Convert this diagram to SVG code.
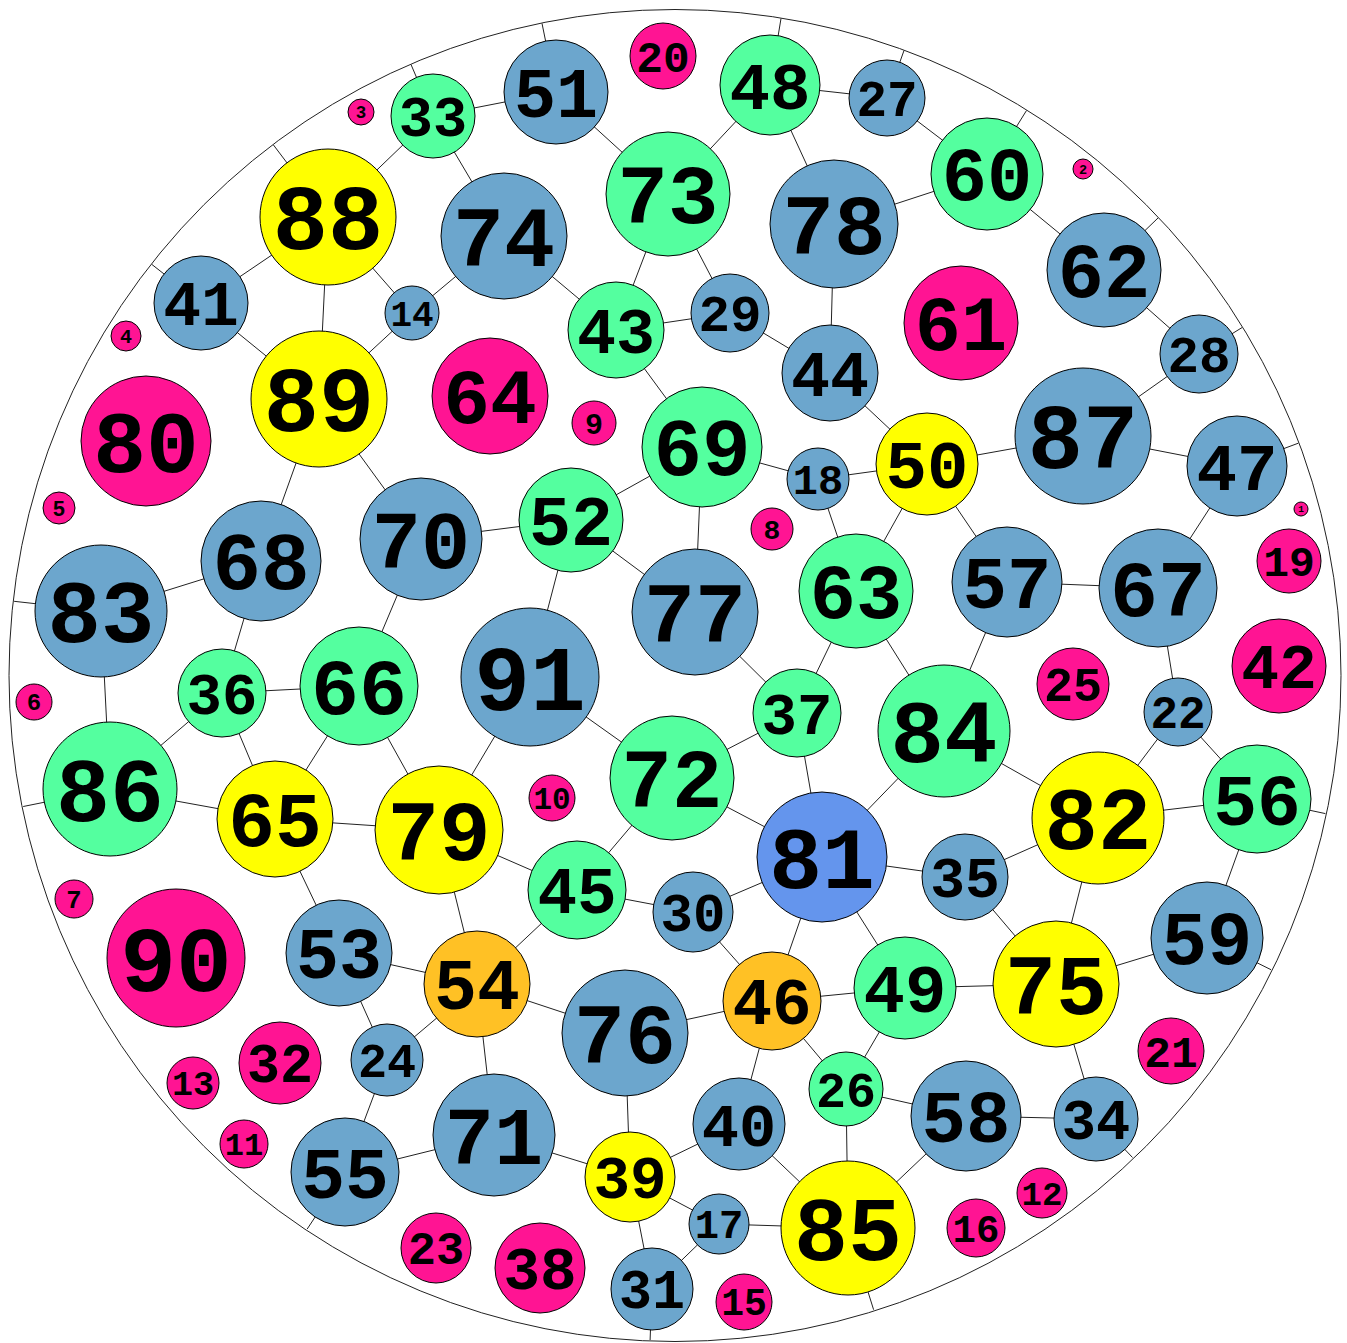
<svg xmlns="http://www.w3.org/2000/svg" width="1347" height="1343" viewBox="0 0 1347 1343">
<style>
.n circle{stroke:#000;stroke-width:1}
.b{fill:#6CA6CD}.g{fill:#54FF9F}.y{fill:#FFFF00}.m{fill:#FF1493}.o{fill:#FFC125}.c{fill:#6495ED}
.n text{font-family:"Liberation Mono","Courier New",monospace;font-weight:bold;text-anchor:middle;fill:#000}
#connectors line{stroke:#222;stroke-width:1}
</style>
<rect width="1347" height="1343" fill="#fff"/>
<circle id="boundary" cx="675" cy="675.5" r="666" fill="none" stroke="#222" stroke-width="1"/>
<g id="connectors">
<line x1="433" y1="116" x2="411" y2="64.5"/>
<line x1="556" y1="92" x2="542" y2="23.4"/>
<line x1="770" y1="85" x2="781" y2="18.5"/>
<line x1="887" y1="98" x2="904" y2="50.5"/>
<line x1="987" y1="174" x2="1026.5" y2="110.5"/>
<line x1="1104" y1="270" x2="1158" y2="218"/>
<line x1="1199" y1="354" x2="1242" y2="327.6"/>
<line x1="1237" y1="466" x2="1298.3" y2="443.2"/>
<line x1="1257" y1="799" x2="1325.4" y2="813.6"/>
<line x1="1207" y1="938" x2="1271" y2="969.7"/>
<line x1="1096" y1="1119" x2="1132.5" y2="1157.5"/>
<line x1="848" y1="1228" x2="873.6" y2="1309.7"/>
<line x1="652" y1="1289" x2="650.1" y2="1340"/>
<line x1="345" y1="1172" x2="307.2" y2="1229"/>
<line x1="110" y1="789" x2="23.2" y2="806.5"/>
<line x1="101" y1="611" x2="14.1" y2="601.3"/>
<line x1="201" y1="303" x2="151.8" y2="264.4"/>
<line x1="328" y1="217" x2="273.4" y2="144.9"/>
<line x1="433" y1="116" x2="556" y2="92"/>
<line x1="433" y1="116" x2="328" y2="217"/>
<line x1="433" y1="116" x2="504" y2="236"/>
<line x1="556" y1="92" x2="668" y2="194"/>
<line x1="770" y1="85" x2="668" y2="194"/>
<line x1="770" y1="85" x2="887" y2="98"/>
<line x1="770" y1="85" x2="834" y2="224"/>
<line x1="887" y1="98" x2="987" y2="174"/>
<line x1="987" y1="174" x2="834" y2="224"/>
<line x1="987" y1="174" x2="1104" y2="270"/>
<line x1="1104" y1="270" x2="1199" y2="354"/>
<line x1="1199" y1="354" x2="1083" y2="436"/>
<line x1="1083" y1="436" x2="1237" y2="466"/>
<line x1="1083" y1="436" x2="927" y2="464"/>
<line x1="1237" y1="466" x2="1158" y2="588"/>
<line x1="1158" y1="588" x2="1007" y2="582"/>
<line x1="1158" y1="588" x2="1178" y2="712"/>
<line x1="1178" y1="712" x2="1098" y2="818"/>
<line x1="1178" y1="712" x2="1257" y2="799"/>
<line x1="1257" y1="799" x2="1098" y2="818"/>
<line x1="1257" y1="799" x2="1207" y2="938"/>
<line x1="1098" y1="818" x2="944" y2="731"/>
<line x1="1098" y1="818" x2="965" y2="877"/>
<line x1="1098" y1="818" x2="1056" y2="984"/>
<line x1="1056" y1="984" x2="965" y2="877"/>
<line x1="1056" y1="984" x2="1207" y2="938"/>
<line x1="1056" y1="984" x2="905" y2="988"/>
<line x1="1056" y1="984" x2="1096" y2="1119"/>
<line x1="1096" y1="1119" x2="966" y2="1116"/>
<line x1="966" y1="1116" x2="846" y2="1089"/>
<line x1="966" y1="1116" x2="848" y2="1228"/>
<line x1="846" y1="1089" x2="905" y2="988"/>
<line x1="846" y1="1089" x2="772" y2="1001"/>
<line x1="846" y1="1089" x2="848" y2="1228"/>
<line x1="848" y1="1228" x2="739" y2="1124"/>
<line x1="848" y1="1228" x2="719" y2="1224"/>
<line x1="719" y1="1224" x2="630" y2="1177"/>
<line x1="719" y1="1224" x2="652" y2="1289"/>
<line x1="630" y1="1177" x2="652" y2="1289"/>
<line x1="630" y1="1177" x2="739" y2="1124"/>
<line x1="630" y1="1177" x2="494" y2="1135"/>
<line x1="630" y1="1177" x2="625" y2="1033"/>
<line x1="739" y1="1124" x2="772" y2="1001"/>
<line x1="772" y1="1001" x2="625" y2="1033"/>
<line x1="772" y1="1001" x2="693" y2="912"/>
<line x1="772" y1="1001" x2="905" y2="988"/>
<line x1="772" y1="1001" x2="822" y2="857"/>
<line x1="905" y1="988" x2="822" y2="857"/>
<line x1="822" y1="857" x2="965" y2="877"/>
<line x1="822" y1="857" x2="693" y2="912"/>
<line x1="822" y1="857" x2="672" y2="778"/>
<line x1="822" y1="857" x2="797" y2="713"/>
<line x1="822" y1="857" x2="944" y2="731"/>
<line x1="944" y1="731" x2="856" y2="591"/>
<line x1="944" y1="731" x2="1007" y2="582"/>
<line x1="856" y1="591" x2="797" y2="713"/>
<line x1="856" y1="591" x2="818" y2="479"/>
<line x1="856" y1="591" x2="927" y2="464"/>
<line x1="927" y1="464" x2="1007" y2="582"/>
<line x1="927" y1="464" x2="818" y2="479"/>
<line x1="927" y1="464" x2="830" y2="373"/>
<line x1="818" y1="479" x2="702" y2="447"/>
<line x1="830" y1="373" x2="730" y2="313"/>
<line x1="830" y1="373" x2="834" y2="224"/>
<line x1="730" y1="313" x2="616" y2="330"/>
<line x1="730" y1="313" x2="668" y2="194"/>
<line x1="668" y1="194" x2="616" y2="330"/>
<line x1="616" y1="330" x2="504" y2="236"/>
<line x1="616" y1="330" x2="702" y2="447"/>
<line x1="702" y1="447" x2="571" y2="520"/>
<line x1="702" y1="447" x2="695" y2="612"/>
<line x1="695" y1="612" x2="797" y2="713"/>
<line x1="695" y1="612" x2="571" y2="520"/>
<line x1="571" y1="520" x2="421" y2="539"/>
<line x1="571" y1="520" x2="530" y2="677"/>
<line x1="530" y1="677" x2="439" y2="830"/>
<line x1="530" y1="677" x2="672" y2="778"/>
<line x1="672" y1="778" x2="797" y2="713"/>
<line x1="672" y1="778" x2="577" y2="890"/>
<line x1="577" y1="890" x2="439" y2="830"/>
<line x1="577" y1="890" x2="693" y2="912"/>
<line x1="577" y1="890" x2="477" y2="984"/>
<line x1="477" y1="984" x2="439" y2="830"/>
<line x1="477" y1="984" x2="339" y2="953"/>
<line x1="477" y1="984" x2="625" y2="1033"/>
<line x1="477" y1="984" x2="387" y2="1060"/>
<line x1="477" y1="984" x2="494" y2="1135"/>
<line x1="339" y1="953" x2="275" y2="819"/>
<line x1="339" y1="953" x2="387" y2="1060"/>
<line x1="387" y1="1060" x2="345" y2="1172"/>
<line x1="345" y1="1172" x2="494" y2="1135"/>
<line x1="275" y1="819" x2="439" y2="830"/>
<line x1="275" y1="819" x2="359" y2="686"/>
<line x1="275" y1="819" x2="222" y2="693"/>
<line x1="275" y1="819" x2="110" y2="789"/>
<line x1="359" y1="686" x2="439" y2="830"/>
<line x1="359" y1="686" x2="222" y2="693"/>
<line x1="359" y1="686" x2="421" y2="539"/>
<line x1="222" y1="693" x2="110" y2="789"/>
<line x1="222" y1="693" x2="261" y2="561"/>
<line x1="110" y1="789" x2="101" y2="611"/>
<line x1="101" y1="611" x2="261" y2="561"/>
<line x1="261" y1="561" x2="319" y2="399"/>
<line x1="319" y1="399" x2="421" y2="539"/>
<line x1="319" y1="399" x2="201" y2="303"/>
<line x1="319" y1="399" x2="412" y2="313"/>
<line x1="319" y1="399" x2="328" y2="217"/>
<line x1="328" y1="217" x2="201" y2="303"/>
<line x1="328" y1="217" x2="412" y2="313"/>
<line x1="412" y1="313" x2="504" y2="236"/>
</g>
<g id="n1" class="n"><circle class="m" cx="1301" cy="509" r="7"/><text x="1301" y="509" dy=".35em" font-size="9.5">1</text></g>
<g id="n2" class="n"><circle class="m" cx="1083" cy="169" r="10"/><text x="1083" y="169" dy=".35em" font-size="13.5">2</text></g>
<g id="n3" class="n"><circle class="m" cx="361" cy="112" r="13"/><text x="361" y="112" dy=".35em" font-size="17.5">3</text></g>
<g id="n4" class="n"><circle class="m" cx="126" cy="336" r="15"/><text x="126" y="336" dy=".35em" font-size="20">4</text></g>
<g id="n5" class="n"><circle class="m" cx="59" cy="508" r="16"/><text x="59" y="508" dy=".35em" font-size="21.5">5</text></g>
<g id="n6" class="n"><circle class="m" cx="34" cy="702" r="18"/><text x="34" y="702" dy=".35em" font-size="24">6</text></g>
<g id="n7" class="n"><circle class="m" cx="74" cy="899" r="19"/><text x="74" y="899" dy=".35em" font-size="25.5">7</text></g>
<g id="n8" class="n"><circle class="m" cx="772" cy="529" r="21"/><text x="772" y="529" dy=".35em" font-size="28">8</text></g>
<g id="n9" class="n"><circle class="m" cx="594" cy="423" r="22"/><text x="594" y="423" dy=".35em" font-size="30">9</text></g>
<g id="n10" class="n"><circle class="m" cx="552" cy="798" r="23"/><text x="552" y="798" dy=".35em" font-size="31">10</text></g>
<g id="n11" class="n"><circle class="m" cx="244" cy="1144" r="24"/><text x="244" y="1144" dy=".35em" font-size="32">11</text></g>
<g id="n12" class="n"><circle class="m" cx="1042" cy="1193" r="25"/><text x="1042" y="1193" dy=".35em" font-size="34">12</text></g>
<g id="n13" class="n"><circle class="m" cx="193" cy="1083" r="26"/><text x="193" y="1083" dy=".35em" font-size="35">13</text></g>
<g id="n14" class="n"><circle class="b" cx="412" cy="313" r="27"/><text x="412" y="313" dy=".35em" font-size="36">14</text></g>
<g id="n15" class="n"><circle class="m" cx="744" cy="1302" r="28"/><text x="744" y="1302" dy=".35em" font-size="38">15</text></g>
<g id="n16" class="n"><circle class="m" cx="976" cy="1228" r="29"/><text x="976" y="1228" dy=".35em" font-size="39">16</text></g>
<g id="n17" class="n"><circle class="b" cx="719" cy="1224" r="30"/><text x="719" y="1224" dy=".35em" font-size="40.5">17</text></g>
<g id="n18" class="n"><circle class="b" cx="818" cy="479" r="31"/><text x="818" y="479" dy=".35em" font-size="42">18</text></g>
<g id="n19" class="n"><circle class="m" cx="1289" cy="561" r="32"/><text x="1289" y="561" dy=".35em" font-size="43">19</text></g>
<g id="n20" class="n"><circle class="m" cx="663" cy="56" r="33"/><text x="663" y="56" dy=".35em" font-size="44.5">20</text></g>
<g id="n21" class="n"><circle class="m" cx="1171" cy="1051" r="33"/><text x="1171" y="1051" dy=".35em" font-size="44.5">21</text></g>
<g id="n22" class="n"><circle class="b" cx="1178" cy="712" r="34"/><text x="1178" y="712" dy=".35em" font-size="46">22</text></g>
<g id="n23" class="n"><circle class="m" cx="436" cy="1248" r="35"/><text x="436" y="1248" dy=".35em" font-size="47">23</text></g>
<g id="n24" class="n"><circle class="b" cx="387" cy="1060" r="36"/><text x="387" y="1060" dy=".35em" font-size="48.5">24</text></g>
<g id="n25" class="n"><circle class="m" cx="1073" cy="684" r="36"/><text x="1073" y="684" dy=".35em" font-size="48.5">25</text></g>
<g id="n26" class="n"><circle class="g" cx="846" cy="1089" r="37"/><text x="846" y="1089" dy=".35em" font-size="50">26</text></g>
<g id="n27" class="n"><circle class="b" cx="887" cy="98" r="38"/><text x="887" y="98" dy=".35em" font-size="51">27</text></g>
<g id="n28" class="n"><circle class="b" cx="1199" cy="354" r="39"/><text x="1199" y="354" dy=".35em" font-size="52.5">28</text></g>
<g id="n29" class="n"><circle class="b" cx="730" cy="313" r="39"/><text x="730" y="313" dy=".35em" font-size="52.5">29</text></g>
<g id="n30" class="n"><circle class="b" cx="693" cy="912" r="40"/><text x="693" y="912" dy=".35em" font-size="54">30</text></g>
<g id="n31" class="n"><circle class="b" cx="652" cy="1289" r="41"/><text x="652" y="1289" dy=".35em" font-size="55">31</text></g>
<g id="n32" class="n"><circle class="m" cx="280" cy="1063" r="41"/><text x="280" y="1063" dy=".35em" font-size="55">32</text></g>
<g id="n33" class="n"><circle class="g" cx="433" cy="116" r="42"/><text x="433" y="116" dy=".35em" font-size="57">33</text></g>
<g id="n34" class="n"><circle class="b" cx="1096" cy="1119" r="42"/><text x="1096" y="1119" dy=".35em" font-size="57">34</text></g>
<g id="n35" class="n"><circle class="b" cx="965" cy="877" r="43"/><text x="965" y="877" dy=".35em" font-size="58">35</text></g>
<g id="n36" class="n"><circle class="g" cx="222" cy="693" r="44"/><text x="222" y="693" dy=".35em" font-size="59">36</text></g>
<g id="n37" class="n"><circle class="g" cx="797" cy="713" r="44"/><text x="797" y="713" dy=".35em" font-size="59">37</text></g>
<g id="n38" class="n"><circle class="m" cx="540" cy="1268" r="45"/><text x="540" y="1268" dy=".35em" font-size="61">38</text></g>
<g id="n39" class="n"><circle class="y" cx="630" cy="1177" r="45"/><text x="630" y="1177" dy=".35em" font-size="61">39</text></g>
<g id="n40" class="n"><circle class="b" cx="739" cy="1124" r="46"/><text x="739" y="1124" dy=".35em" font-size="62">40</text></g>
<g id="n41" class="n"><circle class="b" cx="201" cy="303" r="47"/><text x="201" y="303" dy=".35em" font-size="63">41</text></g>
<g id="n42" class="n"><circle class="m" cx="1279" cy="666" r="47"/><text x="1279" y="666" dy=".35em" font-size="63">42</text></g>
<g id="n43" class="n"><circle class="g" cx="616" cy="330" r="48"/><text x="616" y="330" dy=".35em" font-size="65">43</text></g>
<g id="n44" class="n"><circle class="b" cx="830" cy="373" r="48"/><text x="830" y="373" dy=".35em" font-size="65">44</text></g>
<g id="n45" class="n"><circle class="g" cx="577" cy="890" r="49"/><text x="577" y="890" dy=".35em" font-size="66">45</text></g>
<g id="n46" class="n"><circle class="o" cx="772" cy="1001" r="49"/><text x="772" y="1001" dy=".35em" font-size="66">46</text></g>
<g id="n47" class="n"><circle class="b" cx="1237" cy="466" r="50"/><text x="1237" y="466" dy=".35em" font-size="67.5">47</text></g>
<g id="n48" class="n"><circle class="g" cx="770" cy="85" r="50"/><text x="770" y="85" dy=".35em" font-size="67.5">48</text></g>
<g id="n49" class="n"><circle class="g" cx="905" cy="988" r="51"/><text x="905" y="988" dy=".35em" font-size="69">49</text></g>
<g id="n50" class="n"><circle class="y" cx="927" cy="464" r="51"/><text x="927" y="464" dy=".35em" font-size="69">50</text></g>
<g id="n51" class="n"><circle class="b" cx="556" cy="92" r="52"/><text x="556" y="92" dy=".35em" font-size="70">51</text></g>
<g id="n52" class="n"><circle class="g" cx="571" cy="520" r="52"/><text x="571" y="520" dy=".35em" font-size="70">52</text></g>
<g id="n53" class="n"><circle class="b" cx="339" cy="953" r="53"/><text x="339" y="953" dy=".35em" font-size="71.5">53</text></g>
<g id="n54" class="n"><circle class="o" cx="477" cy="984" r="53"/><text x="477" y="984" dy=".35em" font-size="71.5">54</text></g>
<g id="n55" class="n"><circle class="b" cx="345" cy="1172" r="54"/><text x="345" y="1172" dy=".35em" font-size="73">55</text></g>
<g id="n56" class="n"><circle class="g" cx="1257" cy="799" r="54"/><text x="1257" y="799" dy=".35em" font-size="73">56</text></g>
<g id="n57" class="n"><circle class="b" cx="1007" cy="582" r="55"/><text x="1007" y="582" dy=".35em" font-size="74">57</text></g>
<g id="n58" class="n"><circle class="b" cx="966" cy="1116" r="55"/><text x="966" y="1116" dy=".35em" font-size="74">58</text></g>
<g id="n59" class="n"><circle class="b" cx="1207" cy="938" r="56"/><text x="1207" y="938" dy=".35em" font-size="75.5">59</text></g>
<g id="n60" class="n"><circle class="g" cx="987" cy="174" r="56"/><text x="987" y="174" dy=".35em" font-size="75.5">60</text></g>
<g id="n61" class="n"><circle class="m" cx="961" cy="323" r="57"/><text x="961" y="323" dy=".35em" font-size="77">61</text></g>
<g id="n62" class="n"><circle class="b" cx="1104" cy="270" r="57"/><text x="1104" y="270" dy=".35em" font-size="77">62</text></g>
<g id="n63" class="n"><circle class="g" cx="856" cy="591" r="57"/><text x="856" y="591" dy=".35em" font-size="77">63</text></g>
<g id="n64" class="n"><circle class="m" cx="490" cy="396" r="58"/><text x="490" y="396" dy=".35em" font-size="78">64</text></g>
<g id="n65" class="n"><circle class="y" cx="275" cy="819" r="58"/><text x="275" y="819" dy=".35em" font-size="78">65</text></g>
<g id="n66" class="n"><circle class="g" cx="359" cy="686" r="59"/><text x="359" y="686" dy=".35em" font-size="80">66</text></g>
<g id="n67" class="n"><circle class="b" cx="1158" cy="588" r="59"/><text x="1158" y="588" dy=".35em" font-size="80">67</text></g>
<g id="n68" class="n"><circle class="b" cx="261" cy="561" r="60"/><text x="261" y="561" dy=".35em" font-size="81">68</text></g>
<g id="n69" class="n"><circle class="g" cx="702" cy="447" r="60"/><text x="702" y="447" dy=".35em" font-size="81">69</text></g>
<g id="n70" class="n"><circle class="b" cx="421" cy="539" r="61"/><text x="421" y="539" dy=".35em" font-size="82">70</text></g>
<g id="n71" class="n"><circle class="b" cx="494" cy="1135" r="61"/><text x="494" y="1135" dy=".35em" font-size="82">71</text></g>
<g id="n72" class="n"><circle class="g" cx="672" cy="778" r="62"/><text x="672" y="778" dy=".35em" font-size="84">72</text></g>
<g id="n73" class="n"><circle class="g" cx="668" cy="194" r="62"/><text x="668" y="194" dy=".35em" font-size="84">73</text></g>
<g id="n74" class="n"><circle class="b" cx="504" cy="236" r="63"/><text x="504" y="236" dy=".35em" font-size="85">74</text></g>
<g id="n75" class="n"><circle class="y" cx="1056" cy="984" r="63"/><text x="1056" y="984" dy=".35em" font-size="85">75</text></g>
<g id="n76" class="n"><circle class="b" cx="625" cy="1033" r="63"/><text x="625" y="1033" dy=".35em" font-size="85">76</text></g>
<g id="n77" class="n"><circle class="b" cx="695" cy="612" r="63"/><text x="695" y="612" dy=".35em" font-size="85">77</text></g>
<g id="n78" class="n"><circle class="b" cx="834" cy="224" r="64"/><text x="834" y="224" dy=".35em" font-size="86">78</text></g>
<g id="n79" class="n"><circle class="y" cx="439" cy="830" r="64"/><text x="439" y="830" dy=".35em" font-size="86">79</text></g>
<g id="n80" class="n"><circle class="m" cx="146" cy="441" r="65"/><text x="146" y="441" dy=".35em" font-size="88">80</text></g>
<g id="n81" class="n"><circle class="c" cx="822" cy="857" r="65"/><text x="822" y="857" dy=".35em" font-size="88">81</text></g>
<g id="n82" class="n"><circle class="y" cx="1098" cy="818" r="66"/><text x="1098" y="818" dy=".35em" font-size="89">82</text></g>
<g id="n83" class="n"><circle class="b" cx="101" cy="611" r="66"/><text x="101" y="611" dy=".35em" font-size="89">83</text></g>
<g id="n84" class="n"><circle class="g" cx="944" cy="731" r="66"/><text x="944" y="731" dy=".35em" font-size="89">84</text></g>
<g id="n85" class="n"><circle class="y" cx="848" cy="1228" r="67"/><text x="848" y="1228" dy=".35em" font-size="90">85</text></g>
<g id="n86" class="n"><circle class="g" cx="110" cy="789" r="67"/><text x="110" y="789" dy=".35em" font-size="90">86</text></g>
<g id="n87" class="n"><circle class="b" cx="1083" cy="436" r="68"/><text x="1083" y="436" dy=".35em" font-size="92">87</text></g>
<g id="n88" class="n"><circle class="y" cx="328" cy="217" r="68"/><text x="328" y="217" dy=".35em" font-size="92">88</text></g>
<g id="n89" class="n"><circle class="y" cx="319" cy="399" r="68"/><text x="319" y="399" dy=".35em" font-size="92">89</text></g>
<g id="n90" class="n"><circle class="m" cx="176" cy="958" r="69"/><text x="176" y="958" dy=".35em" font-size="93">90</text></g>
<g id="n91" class="n"><circle class="b" cx="530" cy="677" r="69"/><text x="530" y="677" dy=".35em" font-size="93">91</text></g>
</svg>
